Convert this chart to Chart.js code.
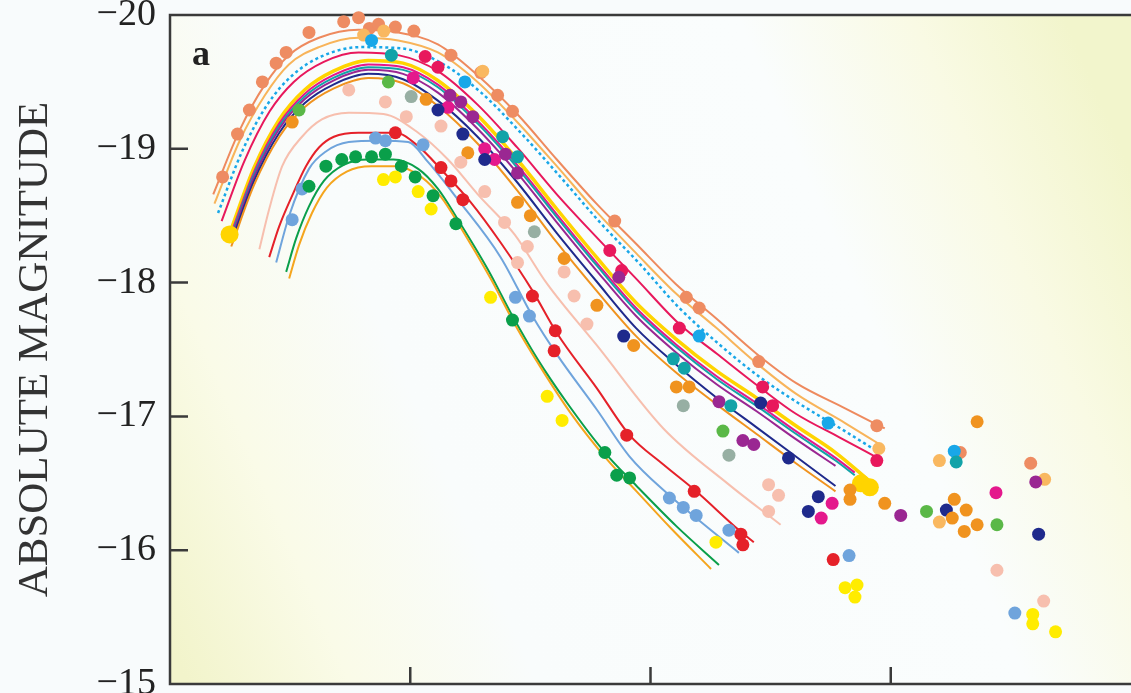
<!DOCTYPE html>
<html>
<head>
<meta charset="utf-8">
<script src="https://cdn.jsdelivr.net/npm/chart.js@4.4.1/dist/chart.umd.min.js"></script>
<style>
  html, body { margin: 0; padding: 0; background: #f8fbfc; overflow: hidden; }
  #wrap { width: 1140px; height: 693px; }
</style>
</head>
<body>
<div id="wrap"><canvas id="lightCurves"></canvas></div>
<script>
// axis ticks: absolute magnitude (brighter at top) and days from maximum
const magTicks = [-20, -19, -18, -17, -16, -15];
const dayTicks = [0, 20, 40];

// fitted light curves (days, magnitudes)
const coralFitDays = [-16.4, -14.2, -12.1, -10.1, -7.6, -4.3, -1.0, 2.3, 5.6, 8.9, 12.2, 15.5, 18.8, 22.1, 25.5, 28.8, 32.1, 36.2, 39.5];
const coralFitMags = [-18.66, -19.14, -19.48, -19.70, -19.83, -19.89, -19.87, -19.78, -19.55, -19.26, -18.92, -18.59, -18.29, -17.99, -17.73, -17.47, -17.25, -17.06, -16.91];

const lightOrangeFitDays = [-16.3, -14.2, -12.1, -10.1, -7.6, -4.3, -1.0, 2.3, 5.6, 8.9, 12.2, 15.5, 18.8, 22.1, 25.5, 28.8, 32.1, 36.2, 39.1];
const lightOrangeFitMags = [-18.59, -19.06, -19.40, -19.63, -19.76, -19.83, -19.81, -19.72, -19.50, -19.20, -18.87, -18.53, -18.22, -17.92, -17.66, -17.40, -17.17, -16.95, -16.79];

const skyBlueFitDays = [-16.0, -14.0, -11.9, -9.8, -7.4, -4.1, -0.7, 2.6, 5.9, 9.2, 12.5, 15.8, 19.1, 22.4, 25.7, 29.0, 32.3, 36.0, 38.5];
const skyBlueFitMags = [-18.52, -18.98, -19.33, -19.55, -19.69, -19.76, -19.75, -19.64, -19.42, -19.12, -18.79, -18.45, -18.14, -17.81, -17.54, -17.30, -17.10, -16.90, -16.76];

const crimsonFitDays = [-15.7, -13.8, -11.7, -9.7, -7.2, -4.3, -1.0, 2.3, 5.6, 8.9, 12.2, 15.5, 18.8, 22.4, 25.5, 29.2, 32.1, 35.8, 38.9];
const crimsonFitMags = [-18.46, -18.91, -19.28, -19.50, -19.65, -19.72, -19.70, -19.58, -19.33, -19.01, -18.66, -18.34, -18.03, -17.69, -17.47, -17.21, -17.02, -16.84, -16.69];

const yellowFitDays = [-14.9, -13.0, -10.9, -8.8, -6.4, -3.5, -0.6, 2.3, 5.6, 8.9, 12.2, 15.5, 18.8, 22.1, 25.5, 28.8, 32.1, 35.4, 38.2];
const yellowFitMags = [-18.40, -18.86, -19.22, -19.44, -19.58, -19.66, -19.64, -19.51, -19.25, -18.92, -18.55, -18.19, -17.85, -17.58, -17.34, -17.14, -16.93, -16.73, -16.52];

const magentaFitDays = [-14.9, -13.0, -10.9, -8.8, -6.4, -3.5, -0.6, 2.3, 5.6, 8.9, 12.2, 15.5, 18.8, 22.1, 25.5, 28.8, 32.1, 35.4, 37.0];
const magentaFitMags = [-18.37, -18.83, -19.19, -19.41, -19.55, -19.63, -19.61, -19.48, -19.21, -18.88, -18.51, -18.15, -17.81, -17.54, -17.30, -17.10, -16.89, -16.69, -16.58];

const tealFitDays = [-14.9, -13.0, -10.9, -8.8, -6.4, -3.5, -0.6, 2.3, 5.6, 8.9, 12.2, 15.5, 18.8, 22.1, 25.5, 28.8, 32.1, 35.4, 37.0];
const tealFitMags = [-18.35, -18.81, -19.17, -19.39, -19.53, -19.61, -19.59, -19.46, -19.19, -18.86, -18.49, -18.13, -17.79, -17.52, -17.28, -17.08, -16.87, -16.67, -16.56];

const bundleDays = [-14.9, -13.0, -10.9, -8.8, -6.4, -3.5, -0.6, 2.3, 5.6, 8.9, 12.2, 15.5, 18.8, 22.1, 25.5, 28.8, 32.1, 35.4];
const purpleFitMags = [-18.33, -18.79, -19.15, -19.37, -19.51, -19.59, -19.56, -19.42, -19.15, -18.82, -18.45, -18.09, -17.75, -17.48, -17.24, -17.04, -16.83, -16.63];
const navyFitMags = [-18.30, -18.76, -19.12, -19.34, -19.48, -19.56, -19.52, -19.36, -19.09, -18.75, -18.37, -18.01, -17.66, -17.39, -17.14, -16.92, -16.70, -16.48];
const orangeFitMags = [-18.27, -18.73, -19.09, -19.31, -19.45, -19.53, -19.49, -19.32, -19.04, -18.69, -18.30, -17.94, -17.60, -17.33, -17.09, -16.87, -16.65, -16.44];

const lightPinkFitDays = [-12.56, -11.74, -10.66, -9.01, -7.36, -5.12, -2.23, 0.66, 3.14, 5.62, 8.68, 11.40, 15.54, 21.07, 26.53, 30.83];
const lightPinkFitMags = [-18.25, -18.55, -18.87, -19.09, -19.22, -19.27, -19.26, -19.12, -18.92, -18.66, -18.36, -17.99, -17.53, -16.91, -16.49, -16.19];

const redFitDays = [-11.74, -10.91, -9.83, -8.68, -7.60, -6.36, -4.30, -1.24, 0.66, 2.73, 5.04, 7.52, 10.17, 12.23, 15.54, 18.26, 21.07, 23.80, 27.36, 28.60];
const redFitMags = [-18.19, -18.42, -18.65, -18.87, -19.01, -19.09, -19.12, -19.12, -19.02, -18.83, -18.60, -18.30, -17.94, -17.62, -17.21, -16.86, -16.64, -16.44, -16.15, -16.06];

const lightBlueFitDays = [-11.16, -10.08, -8.43, -7.02, -5.12, -2.64, -0.17, 1.49, 3.97, 7.52, 10.17, 12.23, 15.54, 18.26, 21.57, 23.80, 27.36];
const lightBlueFitMags = [-18.15, -18.50, -18.85, -18.98, -19.05, -19.06, -19.05, -18.90, -18.62, -18.19, -17.75, -17.46, -17.05, -16.70, -16.41, -16.24, -15.98];

const greenFitDays = [-10.33, -9.50, -8.43, -7.19, -5.54, -3.47, -1.40, 0.66, 2.31, 3.97, 6.45, 8.51, 10.58, 13.06, 16.20, 18.84, 22.15, 25.70];
const greenFitMags = [-18.08, -18.33, -18.57, -18.76, -18.88, -18.92, -18.92, -18.85, -18.70, -18.47, -18.10, -17.75, -17.43, -17.10, -16.73, -16.48, -16.18, -15.89];

const amberFitDays = [-10.08, -9.26, -8.18, -6.94, -5.29, -3.22, -1.16, 0.91, 2.56, 4.21, 6.69, 8.76, 10.83, 13.31, 16.36, 18.84, 21.74, 25.04];
const amberFitMags = [-18.03, -18.28, -18.52, -18.71, -18.83, -18.87, -18.87, -18.79, -18.64, -18.41, -18.03, -17.68, -17.37, -17.03, -16.68, -16.44, -16.16, -15.86];

// photometry points [day, magnitude]
const coralObs = [[-15.62, -18.79], [-14.38, -19.11], [-13.39, -19.29], [-12.31, -19.50], [-11.16, -19.64], [-10.33, -19.72], [-8.43, -19.87], [-5.54, -19.95], [-4.30, -19.98], [-3.40, -19.90], [-2.64, -19.93], [-1.24, -19.91], [0.30, -19.88], [3.39, -19.70], [5.87, -19.57], [7.27, -19.40], [8.51, -19.28], [17.02, -18.46], [22.98, -17.89], [24.05, -17.81], [29.01, -17.41], [38.84, -16.93], [45.79, -16.73], [51.65, -16.65]];
const lightOrangeObs = [[-3.88, -19.85], [-2.20, -19.88], [6.03, -19.58], [39.01, -16.76], [44.05, -16.67], [44.05, -16.21], [52.81, -16.53]];
const skyBlueObs = [[-3.22, -19.81], [4.55, -19.50], [24.05, -17.60], [34.79, -16.95], [45.29, -16.74]];
const crimsonObs = [[1.24, -19.69], [2.31, -19.61], [16.61, -18.24], [17.60, -18.09], [22.40, -17.66], [29.34, -17.22], [30.17, -17.08], [38.84, -16.67]];
const yellowObs = [[-15.04, -18.36], [37.52, -16.50], [38.26, -16.47]];
const magentaObs = [[0.25, -19.53], [3.14, -19.31], [6.20, -19.00], [7.02, -18.92], [35.12, -16.35], [34.21, -16.24], [48.76, -16.43]];
const purpleObs = [[3.31, -19.40], [4.21, -19.35], [5.21, -19.24], [7.93, -18.96], [8.93, -18.82], [17.36, -18.04], [25.70, -17.11], [27.69, -16.82], [28.60, -16.79], [40.83, -16.26], [52.07, -16.51]];
const tealObs = [[-1.57, -19.70], [7.69, -19.09], [8.93, -18.94], [21.90, -17.43], [22.81, -17.36], [26.69, -17.08], [45.45, -16.66]];
const navyObs = [[2.31, -19.29], [4.38, -19.11], [6.20, -18.92], [17.77, -17.60], [29.17, -17.10], [31.49, -16.69], [33.14, -16.29], [33.97, -16.40], [44.63, -16.30], [52.31, -16.12]];
const orangeObs = [[-9.83, -19.20], [1.32, -19.37], [4.79, -18.97], [8.93, -18.60], [10.00, -18.50], [12.81, -18.18], [15.54, -17.83], [18.60, -17.53], [22.15, -17.22], [23.22, -17.22], [36.61, -16.45], [36.61, -16.38], [39.50, -16.35], [45.29, -16.38], [46.28, -16.30], [45.12, -16.24], [47.19, -16.19], [46.12, -16.14], [47.19, -16.96]];
const lightGreenObs = [[-9.26, -19.29], [-1.82, -19.50], [26.03, -16.89], [42.98, -16.29], [48.84, -16.19]];
const grayObs = [[0.08, -19.39], [10.33, -18.38], [22.73, -17.08], [26.53, -16.71]];
const lightPinkObs = [[-5.12, -19.44], [-2.07, -19.35], [-0.33, -19.24], [2.56, -19.17], [4.21, -18.90], [6.20, -18.68], [7.85, -18.45], [9.75, -18.27], [8.93, -18.15], [12.81, -18.08], [13.64, -17.90], [14.71, -17.69], [29.83, -16.49], [30.66, -16.41], [29.83, -16.29], [48.84, -15.85], [52.73, -15.62]];
const redObs = [[-1.24, -19.12], [2.56, -18.86], [3.39, -18.76], [4.38, -18.62], [10.17, -17.90], [12.07, -17.64], [11.98, -17.49], [18.02, -16.86], [23.64, -16.44], [27.52, -16.12], [27.69, -16.04], [35.21, -15.93]];
const lightBlueObs = [[-9.83, -18.47], [-9.01, -18.70], [-2.89, -19.08], [-2.07, -19.06], [1.07, -19.03], [8.76, -17.89], [9.92, -17.75], [21.57, -16.39], [22.73, -16.32], [23.80, -16.26], [26.53, -16.15], [36.53, -15.96], [50.33, -15.53]];
const greenObs = [[-8.43, -18.72], [-7.02, -18.87], [-5.70, -18.92], [-4.55, -18.94], [-3.22, -18.94], [-2.07, -18.96], [-0.74, -18.87], [0.41, -18.79], [1.90, -18.65], [3.80, -18.44], [8.51, -17.72], [16.20, -16.73], [17.19, -16.56], [18.26, -16.54]];
const lemonObs = [[-2.23, -18.77], [-1.24, -18.79], [0.66, -18.68], [1.74, -18.55], [6.69, -17.89], [11.40, -17.15], [12.64, -16.97], [25.45, -16.06], [36.20, -15.72], [37.19, -15.74], [37.02, -15.65], [51.82, -15.52], [51.82, -15.45], [53.72, -15.39]];

const SERIF = '"Liberation Serif", "Times New Roman", serif';

function fitLine(days, mags, color, width, dash) {
  return {
    type: "line",
    data: days.map((d, i) => ({ x: d, y: mags[i] })),
    borderColor: color,
    borderWidth: width || 2,
    borderDash: dash || [],
    pointRadius: 0,
    fill: false,
    cubicInterpolationMode: "monotone",
    order: 1,
  };
}

function obsDots(points, color, radius) {
  return {
    type: "scatter",
    data: points.map(([d, m]) => ({ x: d, y: m })),
    backgroundColor: color,
    borderWidth: 0,
    pointRadius: radius || 6.5,
    clip: false,
    order: 0,
  };
}

// soft yellow-to-white diagonal wash behind the plot
const backdrop = {
  id: "backdrop",
  beforeDraw(chart) {
    const { ctx, chartArea: a } = chart;
    const g = ctx.createLinearGradient(a.left - 20, a.bottom - 87, a.left + 961, a.bottom - 514);
    g.addColorStop(0, "#f2f4cb");
    g.addColorStop(0.14, "#fafbe8");
    g.addColorStop(0.3, "#f9fcfc");
    g.addColorStop(0.72, "#fafdfd");
    g.addColorStop(0.87, "#f9fae4");
    g.addColorStop(1, "#f2f5cc");
    ctx.save();
    ctx.fillStyle = g;
    ctx.fillRect(a.left, a.top, a.right - a.left, a.bottom - a.top);
    ctx.restore();
  },
};

// box with inward ticks, plus the panel letter
const frame = {
  id: "frame",
  beforeDatasetsDraw(chart) {
    const { ctx, chartArea: a, scales: { x, y } } = chart;
    ctx.save();
    ctx.strokeStyle = "#3a3a3a";
    ctx.lineWidth = 2.5;
    ctx.beginPath();
    ctx.moveTo(a.right + 5, a.top);
    ctx.lineTo(a.left, a.top);
    ctx.lineTo(a.left, a.bottom);
    ctx.lineTo(a.right + 5, a.bottom);
    magTicks.forEach((m) => {
      const py = y.getPixelForValue(m);
      ctx.moveTo(a.left, py);
      ctx.lineTo(a.left + 18, py);
    });
    dayTicks.forEach((d) => {
      const px = x.getPixelForValue(d);
      ctx.moveTo(px, a.bottom);
      ctx.lineTo(px, a.bottom - 17);
    });
    ctx.stroke();
    ctx.restore();
  },
  afterDraw(chart) {
    const { ctx } = chart;
    ctx.save();
    ctx.fillStyle = "#222";
    ctx.font = "bold 36px " + SERIF;
    ctx.textBaseline = "alphabetic";
    ctx.fillText("a", 192, 65);
    ctx.restore();
  },
};

const datasets = [
  fitLine(coralFitDays, coralFitMags, "#ee8a5e"),
  fitLine(lightOrangeFitDays, lightOrangeFitMags, "#f8b45a"),
  fitLine(skyBlueFitDays, skyBlueFitMags, "#19a7e8", 2.5, [3, 3]),
  fitLine(crimsonFitDays, crimsonFitMags, "#e8185c"),
  fitLine(bundleDays, orangeFitMags, "#f0931f"),
  fitLine(bundleDays, navyFitMags, "#1f2a8c"),
  fitLine(bundleDays, purpleFitMags, "#9a2792"),
  fitLine(tealFitDays, tealFitMags, "#12a3a8"),
  fitLine(magentaFitDays, magentaFitMags, "#e4188c"),
  fitLine(yellowFitDays, yellowFitMags, "#ffd400", 3.5),
  fitLine(lightPinkFitDays, lightPinkFitMags, "#f7bfae"),
  fitLine(redFitDays, redFitMags, "#e52129"),
  fitLine(lightBlueFitDays, lightBlueFitMags, "#6fa4dc"),
  fitLine(amberFitDays, amberFitMags, "#f5a51d"),
  fitLine(greenFitDays, greenFitMags, "#0a9f4a"),

  obsDots(lemonObs, "#ffec00"),
  obsDots(greenObs, "#0a9f4a"),
  obsDots(lightBlueObs, "#6fa4dc"),
  obsDots(redObs, "#e52129"),
  obsDots(lightPinkObs, "#f7bfae"),
  obsDots(grayObs, "#97afa3"),
  obsDots(lightGreenObs, "#5ab847"),
  obsDots(orangeObs, "#f0931f"),
  obsDots(navyObs, "#1f2a8c"),
  obsDots(tealObs, "#12a3a8"),
  obsDots(purpleObs, "#9a2792"),
  obsDots(magentaObs, "#e4188c"),
  obsDots(yellowObs, "#ffd400", 9),
  obsDots(crimsonObs, "#e8185c"),
  obsDots(skyBlueObs, "#19a7e8"),
  obsDots(lightOrangeObs, "#f9b860"),
  obsDots(coralObs, "#ee8c62"),
];

new Chart(document.getElementById("lightCurves"), {
  type: "scatter",
  data: { datasets },
  options: {
    responsive: true,
    maintainAspectRatio: false,
    animation: false,
    layout: { padding: { top: 15, bottom: 6, right: 2, left: 0 } },
    plugins: { legend: { display: false }, tooltip: { enabled: false } },
    scales: {
      x: { type: "linear", min: -20, max: 60, display: false },
      y: {
        type: "linear",
        reverse: true,
        min: -20,
        max: -15,
        afterFit(scale) {
          scale.width = 170;
          scale.paddingTop = 0;
          scale.paddingBottom = 0;
        },
        grid: { display: false, drawTicks: false },
        border: { display: false },
        ticks: {
          stepSize: 1,
          padding: 14,
          color: "#222",
          font: { family: SERIF, size: 38 },
          callback: (v) => "\u2212" + Math.abs(v),
        },
        title: {
          display: true,
          text: "ABSOLUTE MAGNITUDE",
          color: "#333",
          font: { family: SERIF, size: 43 },
          padding: { top: 10, bottom: 0 },
        },
      },
    },
  },
  plugins: [backdrop, frame],
});
</script>
</body>
</html>
